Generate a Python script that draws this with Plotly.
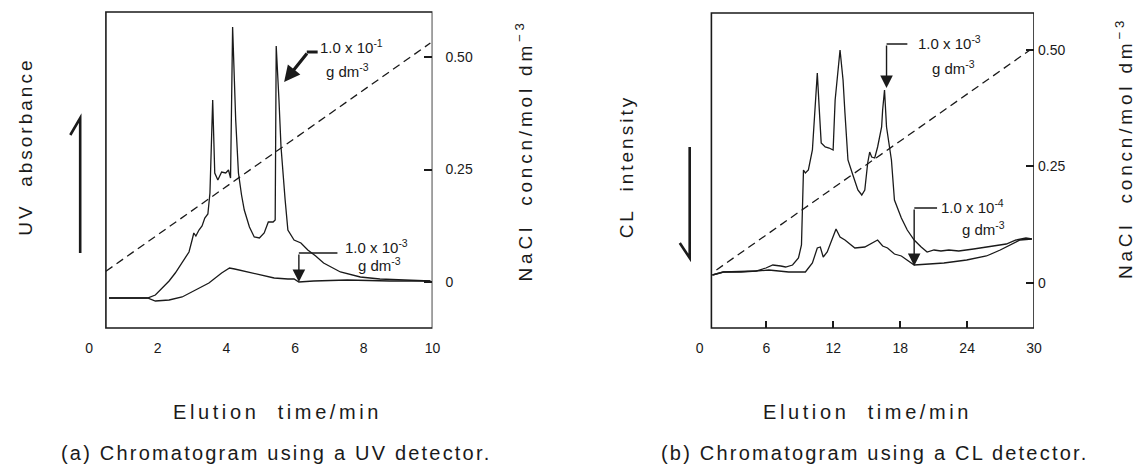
import plotly.graph_objects as go

W, H = 1137, 466
FONT = "Liberation Sans, Arial, sans-serif"
INK = "#1a1a1a"

# ---------------- Panel (a): UV detector ----------------
uv_high_t = [0.58, 1.70, 1.93, 2.13, 2.33, 2.51, 2.71, 2.91, 3.00, 3.05, 3.11, 3.20, 3.29, 3.37,
             3.46, 3.52, 3.60, 3.66, 3.75, 3.86, 3.98, 4.06, 4.12, 4.18, 4.27, 4.35, 4.44, 4.52,
             4.67, 4.81, 4.96, 5.10, 5.22, 5.36, 5.42, 5.45, 5.53, 5.59, 5.71, 5.79, 5.97, 6.17,
             6.37, 6.60, 6.83, 7.32, 7.90, 8.47, 9.19, 9.94]
uv_high_a = [0.0, 0.0, 0.012, 0.04, 0.068, 0.10, 0.144, 0.184, 0.232, 0.26, 0.248, 0.272, 0.288, 0.32,
             0.336, 0.42, 0.792, 0.50, 0.472, 0.504, 0.50, 0.512, 0.48, 1.084, 0.712, 0.50, 0.412, 0.352,
             0.284, 0.244, 0.24, 0.26, 0.304, 0.304, 0.312, 1.008, 0.792, 0.604, 0.392, 0.272, 0.232, 0.22,
             0.192, 0.168, 0.14, 0.104, 0.084, 0.076, 0.072, 0.068]
uv_low_t = [0.58, 1.70, 1.93, 2.33, 2.71, 3.08, 3.49, 3.86, 4.09, 4.24, 4.64, 5.01, 5.39, 5.79,
            5.97, 6.11, 6.54, 7.52, 8.76, 9.94]
uv_low_a = [0.0, 0.0, -0.012, -0.008, 0.004, 0.032, 0.06, 0.10, 0.12, 0.116, 0.104, 0.092, 0.08, 0.076,
            0.076, 0.064, 0.068, 0.072, 0.068, 0.068]
nacl_a_t = [0.49, 9.94]
nacl_a_c = [0.024, 0.531]
xticks_a = [0, 2, 4, 6, 8, 10]

# ---------------- Panel (b): CL detector ----------------
cl_high_t = [1.15, 2.13, 3.73, 5.06, 5.95, 6.57, 7.28, 7.72, 8.34, 8.87, 9.14, 9.32, 9.49, 9.76,
             10.12, 10.38, 10.56, 10.74, 10.91, 11.27, 11.62, 11.98, 12.16, 12.60, 12.87, 13.04, 13.31,
             13.75, 14.20, 14.55, 14.82, 15.08, 15.26, 15.44, 15.71, 15.97, 16.33, 16.42, 16.59, 16.77,
             17.21, 17.48, 18.10, 18.63, 19.25, 19.88, 20.41, 21.03, 21.65, 22.36, 23.25, 24.58, 26.35,
             27.51, 28.39, 29.28, 29.81]
cl_high_s = [0.02, 0.032, 0.032, 0.036, 0.048, 0.06, 0.056, 0.052, 0.06, 0.088, 0.14, 0.44, 0.428, 0.44,
             0.52, 0.68, 0.828, 0.68, 0.548, 0.532, 0.528, 0.52, 0.72, 0.92, 0.80, 0.668, 0.48,
             0.42, 0.36, 0.34, 0.36, 0.468, 0.512, 0.492, 0.488, 0.532, 0.612, 0.68, 0.76, 0.612,
             0.48, 0.32, 0.248, 0.2, 0.16, 0.132, 0.112, 0.12, 0.116, 0.12, 0.116, 0.124, 0.136,
             0.144, 0.16, 0.168, 0.164]
cl_low_t = [1.15, 2.13, 5.06, 6.21, 7.99, 9.49, 10.12, 10.56, 10.83, 11.09, 11.45, 11.89, 12.24, 12.60,
            13.04, 13.93, 14.82, 15.97, 16.42, 16.86, 17.48, 18.10, 18.63, 19.25, 20.59, 21.92, 23.96,
            25.73, 26.97, 27.86, 28.75, 29.81]
cl_low_s = [0.02, 0.032, 0.036, 0.04, 0.032, 0.032, 0.068, 0.128, 0.132, 0.092, 0.112, 0.16, 0.204, 0.172,
            0.16, 0.128, 0.132, 0.16, 0.136, 0.128, 0.104, 0.096, 0.08, 0.06, 0.064, 0.068, 0.08,
            0.096, 0.12, 0.14, 0.16, 0.164]
nacl_b_t = [1.51, 29.64]
nacl_b_c = [0.028, 0.50]
xticks_b = [0, 6, 12, 18, 24, 30]
xminor_b = [6, 12, 18, 24]

nacl_ticks = [0, 0.25, 0.5]
nacl_ticktext = ["0", "0.25", "0.50"]


def P(px, py):
    return px / W, 1 - py / H


line_style = dict(color=INK, width=1.3)
dash_style = dict(color=INK, width=1.3, dash="8px,5px")

fig = go.Figure()
fig.add_trace(go.Scatter(x=uv_high_t, y=uv_high_a, xaxis="x", yaxis="y", mode="lines", line=line_style))
fig.add_trace(go.Scatter(x=uv_low_t, y=uv_low_a, xaxis="x", yaxis="y", mode="lines", line=line_style))
fig.add_trace(go.Scatter(x=nacl_a_t, y=nacl_a_c, xaxis="x", yaxis="y2", mode="lines", line=dash_style))
fig.add_trace(go.Scatter(x=cl_high_t, y=cl_high_s, xaxis="x2", yaxis="y3", mode="lines", line=line_style))
fig.add_trace(go.Scatter(x=cl_low_t, y=cl_low_s, xaxis="x2", yaxis="y3", mode="lines", line=line_style))
fig.add_trace(go.Scatter(x=nacl_b_t, y=nacl_b_c, xaxis="x2", yaxis="y4", mode="lines", line=dash_style))
fig.add_trace(go.Scatter(x=[], y=[], xaxis="x3", yaxis="y3", mode="lines"))

tickfont = dict(size=14, family=FONT, color=INK)
ydom = [1 - 328 / H, 1 - 12 / H]
common = dict(showgrid=False, zeroline=False, showline=False)

fig.update_layout(
    width=W, height=H, margin=dict(l=0, r=0, t=0, b=0),
    paper_bgcolor="white", plot_bgcolor="rgba(0,0,0,0)", showlegend=False,
    xaxis=dict(domain=[86 / W, 433 / W], range=[0, 10], anchor="y", tickvals=xticks_a,
               ticks="outside", ticklen=7, tickcolor="rgba(0,0,0,0)", tickfont=tickfont, **common),
    yaxis=dict(domain=ydom, range=[-0.12, 1.144], visible=False, anchor="x", **common),
    yaxis2=dict(overlaying="y", anchor="x", side="right", range=[-0.1022, 0.6],
                tickvals=nacl_ticks, ticktext=nacl_ticktext, ticks="inside", ticklen=8,
                tickwidth=1.5, tickcolor=INK, ticklabelstandoff=12, tickfont=tickfont, **common),
    xaxis2=dict(domain=[703 / W, 1041 / W], range=[0, 30], anchor="y3", tickvals=xticks_b,
                ticks="outside", ticklen=7, tickcolor="rgba(0,0,0,0)", tickfont=tickfont, **common),
    xaxis3=dict(overlaying="x2", anchor="y3", range=[0, 30], tickvals=xminor_b, ticks="inside",
                ticklen=7, tickwidth=1.5, tickcolor=INK, showticklabels=False, **common),
    yaxis3=dict(domain=ydom, range=[-0.192, 1.072], visible=False, anchor="x2", **common),
    yaxis4=dict(overlaying="y3", anchor="x2", side="right", range=[-0.0966, 0.5815],
                tickvals=nacl_ticks, ticktext=nacl_ticktext, ticks="inside", ticklen=8,
                tickwidth=1.5, tickcolor=INK, ticklabelstandoff=3, tickfont=tickfont, **common),
)

shapes = [
    dict(type="rect", xref="x", yref="y domain", x0=0.49, x1=10, y0=0, y1=1,
         line=dict(color=INK, width=1.6)),
    dict(type="rect", xref="x2", yref="y3 domain", x0=1.06, x1=30, y0=0, y1=0.997,
         line=dict(color=INK, width=1.6)),
]


def seg(points, width=1.5):
    path = ""
    for i, (px, py) in enumerate(points):
        x, y = P(px, py)
        path += ("M" if i == 0 else " L") + f"{x:.5f},{y:.5f}"
    return dict(type="path", xref="paper", yref="paper", path=path, line=dict(color=INK, width=width))


shapes += [
    seg([(67, 135), (77, 118), (77, 253)], 2.6),       # UV absorbance arrow
    seg([(683, 243), (693, 258), (693, 147)], 2.6),    # CL intensity arrow
    seg([(306, 52), (317, 52)], 3),                    # 1e-1 arrow tail
    seg([(298, 253), (337, 253)]),                     # 1e-3 (a)
    seg([(892, 44), (913, 44)]),                       # 1e-3 (b)
    seg([(920, 208), (943, 208)]),                     # 1e-4 (b)
]
fig.update_layout(shapes=shapes)


def txt(px, py, s, size, xanchor="center", angle=0, ls=0):
    x, y = P(px, py)
    if ls:
        s = f'<span style="letter-spacing:{ls}px">{s}</span>'
    return dict(x=x, y=y, xref="paper", yref="paper", text=s, showarrow=False, xanchor=xanchor,
                yanchor="middle", textangle=angle, font=dict(size=size, family=FONT, color=INK))


NB = "\u00a0"
annos = [
    txt(21, 147, f"UV{NB}{NB}absorbance", 19, angle=-90, ls=3),
    txt(526, 150, f"NaCl{NB}{NB}concn/mol{NB}dm<sup>−3</sup>", 19, angle=-90, ls=3.8),
    txt(629, 166, f"CL{NB}{NB}intensity", 19, angle=-90, ls=3),
    txt(1132, 148, f"NaCl{NB}{NB}concn/mol{NB}dm<sup>−3</sup>", 19, angle=-90, ls=3.8),
    txt(276, 412, f"Elution{NB}{NB}time/min", 20, ls=3.6),
    txt(873, 412, f"Elution{NB}{NB}time/min", 20, ls=3.6),
    txt(275, 453, "(a) Chromatogram using a UV detector.", 20, ls=2.2),
    txt(880, 453, "(b) Chromatogram using a CL detector.", 20, ls=2.2),
    txt(317, 46, "1.0 x 10<sup>-1</sup>", 15, xanchor="left"),
    txt(347, 71, "g dm<sup>-3</sup>", 15),
    txt(343, 246, "1.0 x 10<sup>-3</sup>", 15, xanchor="left"),
    txt(380, 264, "g dm<sup>-3</sup>", 15),
    txt(922, 43, "1.0 x 10<sup>-3</sup>", 15, xanchor="left"),
    txt(960, 67, "g dm<sup>-3</sup>", 15),
    txt(945, 206, "1.0 x 10<sup>-4</sup>", 15, xanchor="left"),
    txt(990, 228, "g dm<sup>-3</sup>", 15),
]


def arrow(x, y, xref, yref, ax, ay, width, size):
    return dict(x=x, y=y, xref=xref, yref=yref, ax=ax, ay=ay, text="", showarrow=True,
                arrowhead=2, arrowwidth=width, arrowsize=size, arrowcolor=INK,
                standoff=0, startstandoff=0)


annos += [
    arrow(5.68, 0.864, "x", "y", 24, -30, 3.2, 1.0),
    arrow(6.11, 0.064, "x", "y", 0, -29, 1.4, 1.8),
    arrow(16.77, 0.768, "x2", "y3", 0, -44, 1.4, 1.8),
    arrow(19.25, 0.056, "x2", "y3", 0, -58, 1.4, 1.8),
]
fig.update_layout(annotations=annos)

fig.write_html("out.html")
